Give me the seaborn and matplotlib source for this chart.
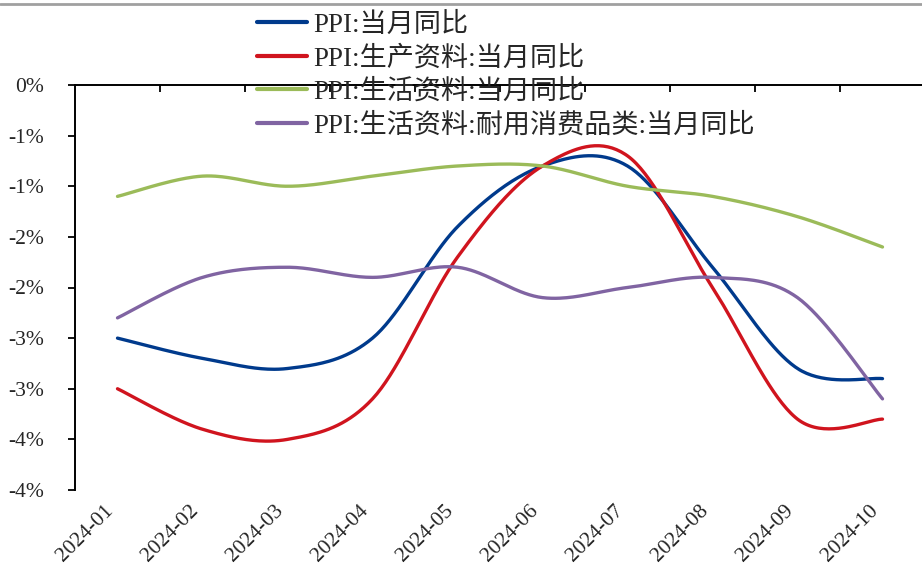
import numpy as np
import pandas as pd
import matplotlib
matplotlib.use("Agg")
import matplotlib.pyplot as plt
from matplotlib.lines import Line2D
from matplotlib.ticker import FuncFormatter
import seaborn as sns

# Monthly data (YoY, %)
months = ["2024-01", "2024-02", "2024-03", "2024-04", "2024-05",
          "2024-06", "2024-07", "2024-08", "2024-09", "2024-10"]
ppi_total = [-2.5, -2.7, -2.8, -2.5, -1.4, -0.8, -0.8, -1.8, -2.8, -2.9]
ppi_producer = [-3.0, -3.4, -3.5, -3.1, -1.7, -0.8, -0.7, -2.0, -3.3, -3.3]
ppi_consumer = [-1.1, -0.9, -1.0, -0.9, -0.8, -0.8, -1.0, -1.1, -1.3, -1.6]
ppi_durable = [-2.3, -1.9, -1.8, -1.9, -1.8, -2.1, -2.0, -1.9, -2.1, -3.1]

series_names = ["PPI:当月同比", "PPI:生产资料:当月同比",
                "PPI:生活资料:当月同比", "PPI:生活资料:耐用消费品类:当月同比"]
series_values = [ppi_total, ppi_producer, ppi_consumer, ppi_durable]
series_colors = ["#003A8C", "#D0141E", "#9BBB59", "#8064A2"]

y_ticks = np.arange(-4.0, 0.01, 0.5)


def smooth_curve(values, steps=40):
    """Cubic Bezier smoothing through every point (spreadsheet-style smoothed line)."""
    pts = np.column_stack([np.arange(len(values), dtype=float), np.asarray(values, float)])
    n = len(pts)
    out = []
    t = np.linspace(0, 1, steps)[:, None]
    for i in range(n - 1):
        p0, p3 = pts[i], pts[i + 1]
        pm = pts[i - 1] if i > 0 else pts[i]
        pp = pts[i + 2] if i + 2 < n else pts[i + 1]
        c1 = p0 + (p3 - pm) / 6.0
        c2 = p3 - (pp - p0) / 6.0
        seg = ((1 - t) ** 3) * p0 + 3 * ((1 - t) ** 2) * t * c1 + 3 * (1 - t) * t ** 2 * c2 + t ** 3 * p3
        out.append(seg if i == 0 else seg[1:])
    return np.vstack(out)


frames = []
for name, vals in zip(series_names, series_values):
    curve = smooth_curve(vals)
    frames.append(pd.DataFrame({"x": curve[:, 0], "y": curve[:, 1], "series": name}))
df = pd.concat(frames, ignore_index=True)

sns.set_theme(style="white")
plt.rcParams["font.family"] = ["Liberation Serif", "Noto Sans CJK SC"]
plt.rcParams["axes.unicode_minus"] = False

fig = plt.figure(figsize=(9.22, 5.77), dpi=100)
ax = fig.add_axes([75 / 922, 1 - 490 / 577, 850 / 922, 405 / 577])

sns.lineplot(data=df, x="x", y="y", hue="series", hue_order=series_names,
             palette=series_colors, sort=False, estimator=None,
             linewidth=2.4, ax=ax)

ax.set_xlim(-0.5, len(months) - 0.5)
ax.set_ylim(-4.0, 0.0)
ax.set_xlabel("")
ax.set_ylabel("")


def pct_label(v, _pos=None):
    r = int(np.floor(abs(v) + 0.5 + 1e-9))
    return f"-{r}%" if (v < 0 and r != 0) else f"{r}%"


ax.set_yticks(y_ticks)
ax.yaxis.set_major_formatter(FuncFormatter(pct_label))
ax.tick_params(axis="y", direction="out", length=5, width=1.3, color="black",
               labelsize=15.5, pad=17, left=True)

ax.set_xticks(np.arange(len(months)))
ax.set_xticklabels(months, rotation=45, ha="right", va="top", fontsize=15.5)
ax.set_xticks(np.arange(len(months) - 1) + 0.5, minor=True)
ax.tick_params(axis="x", which="major", bottom=True, top=False, length=0, pad=8)
ax.tick_params(axis="x", which="minor", bottom=False, top=True, direction="in",
               length=5, width=1.3, color="black")

for side in ("right", "bottom"):
    ax.spines[side].set_visible(False)
for side in ("left", "top"):
    ax.spines[side].set_visible(True)
    ax.spines[side].set_color("black")
    ax.spines[side].set_linewidth(1.4)
ax.grid(False)

handles, labels = ax.get_legend_handles_labels()
leg = ax.legend(handles, labels, loc="upper left",
                bbox_to_anchor=(257 / 922, 1 - 12.5 / 577), bbox_transform=fig.transFigure,
                frameon=False, fontsize=19.5, handlelength=1.85, handletextpad=0.22,
                labelspacing=0.3, borderpad=0, borderaxespad=0)
for h in leg.get_lines():
    h.set_linewidth(3.0)

fig.add_artist(Line2D([0, 1], [1 - 3.5 / 577, 1 - 3.5 / 577], transform=fig.transFigure,
                      color="#A0A0A0", linewidth=2))

fig.savefig("out.png", dpi=100)
